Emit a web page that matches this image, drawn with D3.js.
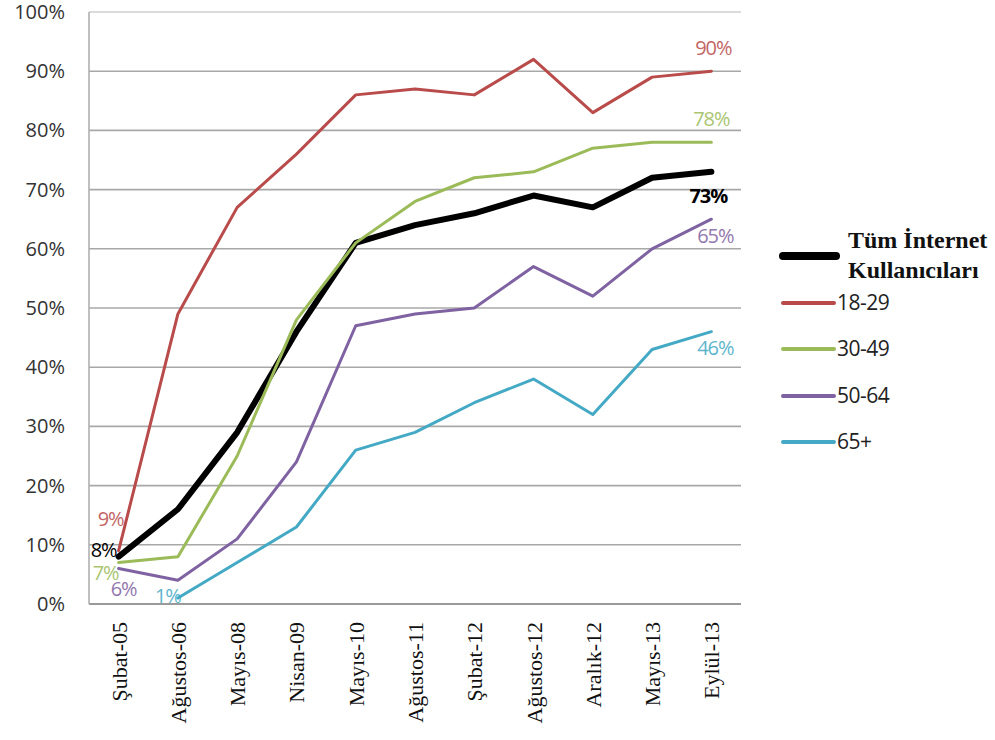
<!DOCTYPE html>
<html>
<head>
<meta charset="utf-8">
<script src="https://cdn.jsdelivr.net/npm/d3@7"></script>
<style>
  body { margin: 0; background: #fff; }
  #box { width: 995px; height: 740px; }
</style>
</head>
<body>
<div id="box"></div>
<script>
// data
const dates = ['Şubat-05', 'Ağustos-06', 'Mayıs-08', 'Nisan-09', 'Mayıs-10', 'Ağustos-11',
  'Şubat-12', 'Ağustos-12', 'Aralık-12', 'Mayıs-13', 'Eylül-13'];
const seriesNames = ['Tüm İnternet Kullanıcıları', '18-29', '30-49', '50-64', '65+'];
const allUsers = [8, 16, 29, 46, 61, 64, 66, 69, 67, 72, 73];
const age18 = [9, 49, 67, 76, 86, 87, 86, 92, 83, 89, 90];
const age30 = [7, 8, 25, 48, 61, 68, 72, 73, 77, 78, 78];
const age50 = [6, 4, 11, 24, 47, 49, 50, 57, 52, 60, 65];
const age65 = [null, 1, 7, 13, 26, 29, 34, 38, 32, 43, 46];
const yTicks = [0, 10, 20, 30, 40, 50, 60, 70, 80, 90, 100];

const width = 995;
const height = 740;
const padLeft = 89;
const padRight = 254;
const padTop = 12;
const padBottom = 136;

const colors = ['#000000', '#b94b4b', '#9bbb59', '#7f62a1', '#43a9c4'];
const widths = [6, 3, 3, 3, 3];
const values = [allUsers, age18, age30, age50, age65];
const sans = '"Open Sans", sans-serif';
const serif = '"Liberation Serif", serif';

const svg = d3.select('#box').append('svg')
  .attr('width', width)
  .attr('height', height);

const x = d3.scalePoint().domain(dates).range([padLeft, width - padRight]).padding(0.5);
const y = d3.scaleLinear().domain([0, 100]).range([height - padBottom, padTop]);

// grid
svg.selectAll('.grid').data(yTicks)
  .join('line')
  .attr('class', 'grid')
  .attr('x1', padLeft)
  .attr('x2', width - padRight)
  .attr('y1', d => y(d))
  .attr('y2', d => y(d))
  .style('stroke', d => d === 100 ? '#cfcfcf' : (d === 0 ? '#9a9a9a' : '#a8a8a8'))
  .style('stroke-width', d => d === 0 ? 2 : 1.6);

// left axis line
svg.append('line')
  .attr('x1', padLeft).attr('x2', padLeft)
  .attr('y1', y(100)).attr('y2', y(0))
  .style('stroke', '#b0b0b0')
  .style('stroke-width', 1.6);

// y labels
svg.selectAll('.ylab').data(yTicks)
  .join('text')
  .attr('class', 'ylab')
  .attr('x', 65)
  .attr('y', d => y(d) + 7)
  .attr('text-anchor', 'end')
  .style('font-family', sans)
  .style('font-size', '20px')
  .style('fill', '#333')
  .text(d => d + '%');

// x labels
svg.selectAll('.xlab').data(dates)
  .join('text')
  .attr('class', 'xlab')
  .attr('transform', d => `translate(${x(d) + 8}, ${height - padBottom + 18}) rotate(-90)`)
  .attr('text-anchor', 'end')
  .style('font-family', serif)
  .style('font-size', '22px')
  .style('fill', '#111')
  .text(d => d);

// lines
const line = d3.line()
  .defined(d => d != null)
  .x((d, i) => x(dates[i]))
  .y(d => y(d));

svg.selectAll('.series').data(values)
  .join('path')
  .attr('class', 'series')
  .attr('d', d => line(d))
  .style('fill', 'none')
  .style('stroke', (d, i) => colors[i])
  .style('stroke-width', (d, i) => widths[i])
  .style('stroke-linejoin', 'round')
  .style('stroke-linecap', 'round');

// data labels: first and last value of each series
const startOff = [[-2, 0, 'end'], [-8, -25, 'middle'], [0, 17, 'end'], [-8, 28, 'start'], [3, 5, 'end']];
const endOff = [[-3, 31], [2, -16], [0, -16], [4, 24], [4, 23]];

values.forEach((vals, i) => {
  const first = vals.findIndex(v => v != null);
  const last = vals.length - 1;
  svg.append('text')
    .attr('x', x(dates[first]) + startOff[i][0])
    .attr('y', y(vals[first]) + startOff[i][1])
    .attr('text-anchor', startOff[i][2])
    .style('font-family', sans)
    .style('font-size', '20px')
    .style('letter-spacing', '-1px')
    .style('fill', colors[i])
    .style('opacity', i === 0 ? 1 : 0.85)
    .text(vals[first] + '%');
  svg.append('text')
    .attr('x', x(dates[last]) + endOff[i][0])
    .attr('y', y(vals[last]) + endOff[i][1])
    .attr('text-anchor', 'middle')
    .style('font-family', sans)
    .style('font-size', '20px')
    .style('letter-spacing', '-1px')
    .style('font-weight', i === 0 ? 'bold' : 'normal')
    .style('fill', colors[i])
    .style('opacity', i === 0 ? 1 : 0.85)
    .text(vals[last] + '%');
});

// legend
const legend = svg.append('g').attr('transform', 'translate(780, 0)');
const legY = [256, 303, 349, 396, 442];

legend.selectAll('.legline').data(seriesNames)
  .join('line')
  .attr('class', 'legline')
  .attr('x1', 3)
  .attr('x2', (d, i) => i === 0 ? 56 : 54)
  .attr('y1', (d, i) => legY[i])
  .attr('y2', (d, i) => legY[i])
  .style('stroke', (d, i) => colors[i])
  .style('stroke-width', (d, i) => i === 0 ? 8 : 4)
  .style('stroke-linecap', 'round');

legend.append('text')
  .style('font-family', serif)
  .style('font-size', '24px')
  .style('font-weight', 'bold')
  .style('fill', '#111')
  .selectAll('tspan').data(['Tüm İnternet', 'Kullanıcıları'])
  .join('tspan')
  .attr('x', 68)
  .attr('y', (d, i) => 248 + i * 30)
  .text(d => d);

legend.selectAll('.legtext').data(seriesNames.slice(1))
  .join('text')
  .attr('class', 'legtext')
  .attr('x', 57)
  .attr('y', (d, i) => legY[i + 1] + 7)
  .style('font-family', sans)
  .style('font-size', '21px')
  .style('letter-spacing', '-0.5px')
  .style('fill', '#222')
  .text(d => d);
</script>
</body>
</html>
